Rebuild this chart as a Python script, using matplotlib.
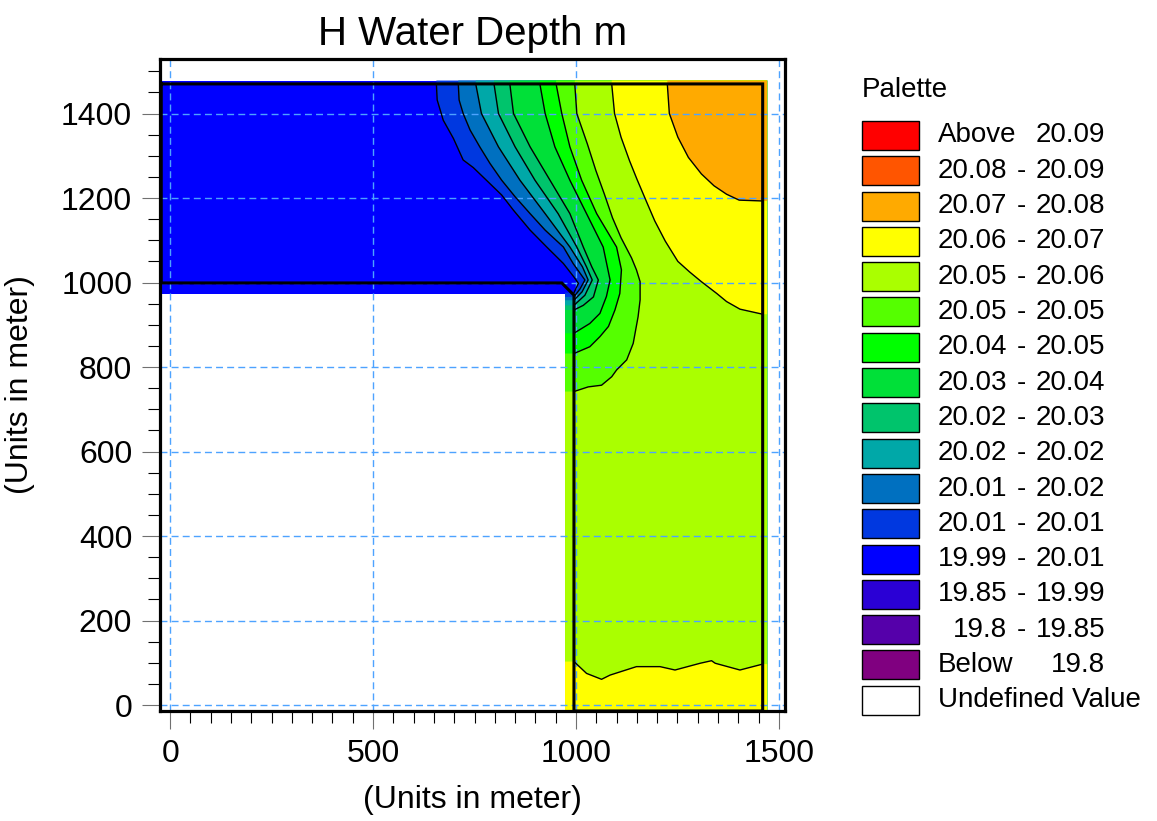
import matplotlib.pyplot as plt
import numpy as np
from matplotlib.patches import Polygon, Rectangle
from matplotlib.ticker import MultipleLocator

plt.rcParams["font.family"] = ["Liberation Sans", "DejaVu Sans"]

# Palette (legend order, top to bottom)
palette_labels = [
    "Above 20.09", "20.08 - 20.09", "20.07 - 20.08", "20.06 - 20.07",
    "20.05 - 20.06", "20.05 - 20.05", "20.04 - 20.05", "20.03 - 20.04",
    "20.02 - 20.03", "20.02 - 20.02", "20.01 - 20.02", "20.01 - 20.01",
    "19.99 - 20.01", "19.85 - 19.99", "19.8 - 19.85", "Below 19.8",
]
palette_colors = [
    "#ff0000", "#ff5500", "#ffaa00", "#ffff00", "#aaff00", "#55ff00",
    "#00ff00", "#00e038", "#00c46c", "#00a8a8", "#0070c0", "#0038e0",
    "#0000ff", "#2a00d5", "#5500aa", "#800080",
]
# class boundaries (bottom to top)
levels = [19.8, 19.85, 19.99, 20.006, 20.012, 20.018, 20.024, 20.030,
          20.038, 20.046, 20.052, 20.058, 20.066, 20.076, 20.086]
base_depth = 20.0

# Wet domain (cell extent) and model boundary outline, in meters
domain_x = [-19, 1471, 1471, 973, 973, -19]
domain_y = [1478, 1478, -21, -21, 974, 974]
outline_x = [-22, 1460, 1460, 995, 995, 965, -22, -22]
outline_y = [1470, 1470, -14, -14, 970, 999, 999, 1470]

# Contour lines (m)
line_20006_x = [656, 658, 673, 698, 722, 747, 788, 817, 846, 887, 928, 969, 995, 1006, 995]
line_20006_y = [1470, 1432, 1384, 1341, 1290, 1272, 1234, 1207, 1171, 1124, 1084, 1045, 1013, 998, 976]
line_20012_x = [710, 712, 722, 739, 763, 788, 817, 850, 887, 924, 969, 993, 1022, 1010, 995]
line_20012_y = [1470, 1432, 1400, 1361, 1321, 1282, 1242, 1203, 1163, 1124, 1084, 1045, 1006, 985, 966]
line_20018_x = [753, 767, 809, 862, 924, 985, 1016, 1030, 1015, 995]
line_20018_y = [1470, 1400, 1321, 1242, 1163, 1084, 1037, 1006, 978, 958]
line_20024_x = [798, 809, 850, 899, 956, 1002, 1026, 1040, 1022, 995]
line_20024_y = [1470, 1400, 1321, 1242, 1163, 1084, 1037, 1006, 970, 946]
line_20030_x = [837, 846, 887, 936, 985, 1018, 1039, 1055, 1043, 1018, 995]
line_20030_y = [1470, 1400, 1321, 1242, 1163, 1084, 1037, 1006, 966, 946, 935]
line_20038_x = [911, 924, 948, 985, 1026, 1067, 1084, 1075, 1059, 1034, 995]
line_20038_y = [1470, 1400, 1321, 1242, 1163, 1084, 1006, 967, 927, 903, 880]
line_20046_x = [951, 965, 985, 1014, 1051, 1100, 1112, 1108, 1096, 1080, 1059, 1034, 995]
line_20046_y = [1470, 1400, 1321, 1242, 1163, 1084, 1030, 974, 935, 896, 872, 848, 832]
line_20052_x = [997, 1002, 1028, 1049, 1070, 1090, 1111, 1137, 1149, 1158, 1158, 1153,
                1141, 1125, 1100, 1088, 1063, 1030, 995]
line_20052_y = [1470, 1400, 1328, 1265, 1209, 1153, 1106, 1058, 1030, 1002, 959, 919,
                856, 817, 793, 777, 757, 753, 742]
line_20058_top_x = [1088, 1095, 1111, 1132, 1150, 1173, 1194, 1220, 1251, 1280, 1309,
                    1347, 1371, 1404, 1460]
line_20058_top_y = [1470, 1400, 1344, 1288, 1245, 1193, 1146, 1098, 1050, 1025, 1002,
                    974, 955, 937, 925]
line_20058_bot_x = [995, 1026, 1063, 1084, 1149, 1207, 1244, 1306, 1334, 1343, 1404, 1460]
line_20058_bot_y = [103, 75, 61, 71, 91, 91, 83, 99, 105, 99, 83, 97]
line_20066_x = [1225, 1230, 1251, 1277, 1309, 1340, 1371, 1402, 1460]
line_20066_y = [1470, 1400, 1344, 1296, 1257, 1229, 1209, 1195, 1193]

contours = [
    (20.006, line_20006_x, line_20006_y, "wall"),
    (20.012, line_20012_x, line_20012_y, "wall"),
    (20.018, line_20018_x, line_20018_y, "wall"),
    (20.024, line_20024_x, line_20024_y, "wall"),
    (20.030, line_20030_x, line_20030_y, "wall"),
    (20.038, line_20038_x, line_20038_y, "wall"),
    (20.046, line_20046_x, line_20046_y, "wall"),
    (20.052, line_20052_x, line_20052_y, "wall"),
    (20.058, line_20058_top_x, line_20058_top_y, "right"),
    (20.058, line_20058_bot_x, line_20058_bot_y, "bottom"),
    (20.066, line_20066_x, line_20066_y, "right"),
]

bin_colors = palette_colors[::-1]


def class_color(value):
    return bin_colors[np.searchsorted(levels, value, side="right")]


def band_polygon(xs, ys, side):
    """Close a contour line along the domain edge on its high side."""
    left, right = min(domain_x), max(domain_x)
    top, bottom = max(domain_y), min(domain_y)
    arm_left = domain_x[3]
    pts = list(zip(xs, ys))
    if side == "wall":
        pts = [(xs[0], top)] + pts + [(arm_left, ys[-1]), (arm_left, bottom),
                                      (right, bottom), (right, top)]
    elif side == "right":
        pts = [(xs[0], top)] + pts + [(right, ys[-1]), (right, top)]
    else:
        pts = [(arm_left, ys[0])] + pts + [(right, ys[-1]), (right, bottom),
                                           (arm_left, bottom)]
    return pts


fig = plt.figure(figsize=(11.57, 8.21), dpi=100)
ax = fig.add_axes([160 / 1157, 1 - 711 / 821, 625 / 1157, 652 / 821])

# Filled classes (painter's order, lowest first)
ax.add_patch(Polygon(list(zip(domain_x, domain_y)), closed=True,
                     facecolor=class_color(base_depth), edgecolor="none", zorder=1))
for level, xs, ys, side in contours:
    ax.add_patch(Polygon(band_polygon(xs, ys, side), closed=True,
                         facecolor=class_color(level + 1e-6), edgecolor="none", zorder=1))

# Contour lines
for level, xs, ys, side in contours:
    ax.plot(xs, ys, color="black", linewidth=1.0, zorder=3)

# Model boundary
ax.plot(outline_x, outline_y, color="black", linewidth=2.2, zorder=4,
        solid_joinstyle="miter")

ax.set_xlim(-25, 1515)
ax.set_ylim(-14, 1529)

ax.set_xticks([0, 500, 1000, 1500])
ax.set_yticks(np.arange(0, 1401, 200))
ax.xaxis.set_minor_locator(MultipleLocator(50))
ax.yaxis.set_minor_locator(MultipleLocator(50))
ax.tick_params(which="major", direction="out", length=13, width=0.8,
               color="#707070", labelsize=23, pad=7)
ax.tick_params(which="minor", direction="out", length=8.5, width=0.8,
               color="black")

ax.set_axisbelow(False)
ax.grid(True, which="major", color="#4da3ff", linestyle=(0, (5, 3)),
        linewidth=1.0)

for sp in ax.spines.values():
    sp.set_linewidth(2.3)
    sp.set_color("black")
    sp.set_zorder(5)

ax.set_title("H Water Depth m", fontsize=29, pad=10)
ax.set_xlabel("(Units in meter)", fontsize=23)
ax.set_ylabel("(Units in meter)", fontsize=23)
ax.xaxis.set_label_coords(0.5, -0.113)
ax.yaxis.set_label_coords(-0.2, 0.5)

# Palette legend drawn in figure pixels
lax = fig.add_axes([0, 0, 1, 1])
lax.set_xlim(0, 1157)
lax.set_ylim(821, 0)
lax.axis("off")
lax.patch.set_alpha(0)

lax.text(862, 90, "Palette", fontsize=20, ha="left", va="center")
row_top, row_pitch, box_h = 121, 35.3, 29
rows = list(zip(palette_labels, palette_colors)) + [("Undefined Value", "#ffffff")]
for i, (label, color) in enumerate(rows):
    top = row_top + i * row_pitch
    mid = top + box_h / 2
    lax.add_patch(Rectangle((862, top), 57, box_h, facecolor=color,
                            edgecolor="black", linewidth=1.0))
    if " - " in label:
        lo, hi = label.split(" - ")
        lax.text(1007, mid, lo, fontsize=20, ha="right", va="center")
        lax.text(1021, mid, "-", fontsize=20, ha="center", va="center")
        lax.text(1105, mid, hi, fontsize=20, ha="right", va="center")
    elif label.startswith(("Above", "Below")):
        word, num = label.split()
        lax.text(938, mid, word, fontsize=20, ha="left", va="center")
        lax.text(1105, mid, num, fontsize=20, ha="right", va="center")
    else:
        lax.text(938, mid, label, fontsize=20, ha="left", va="center")

fig.savefig("out.png", dpi=100)
